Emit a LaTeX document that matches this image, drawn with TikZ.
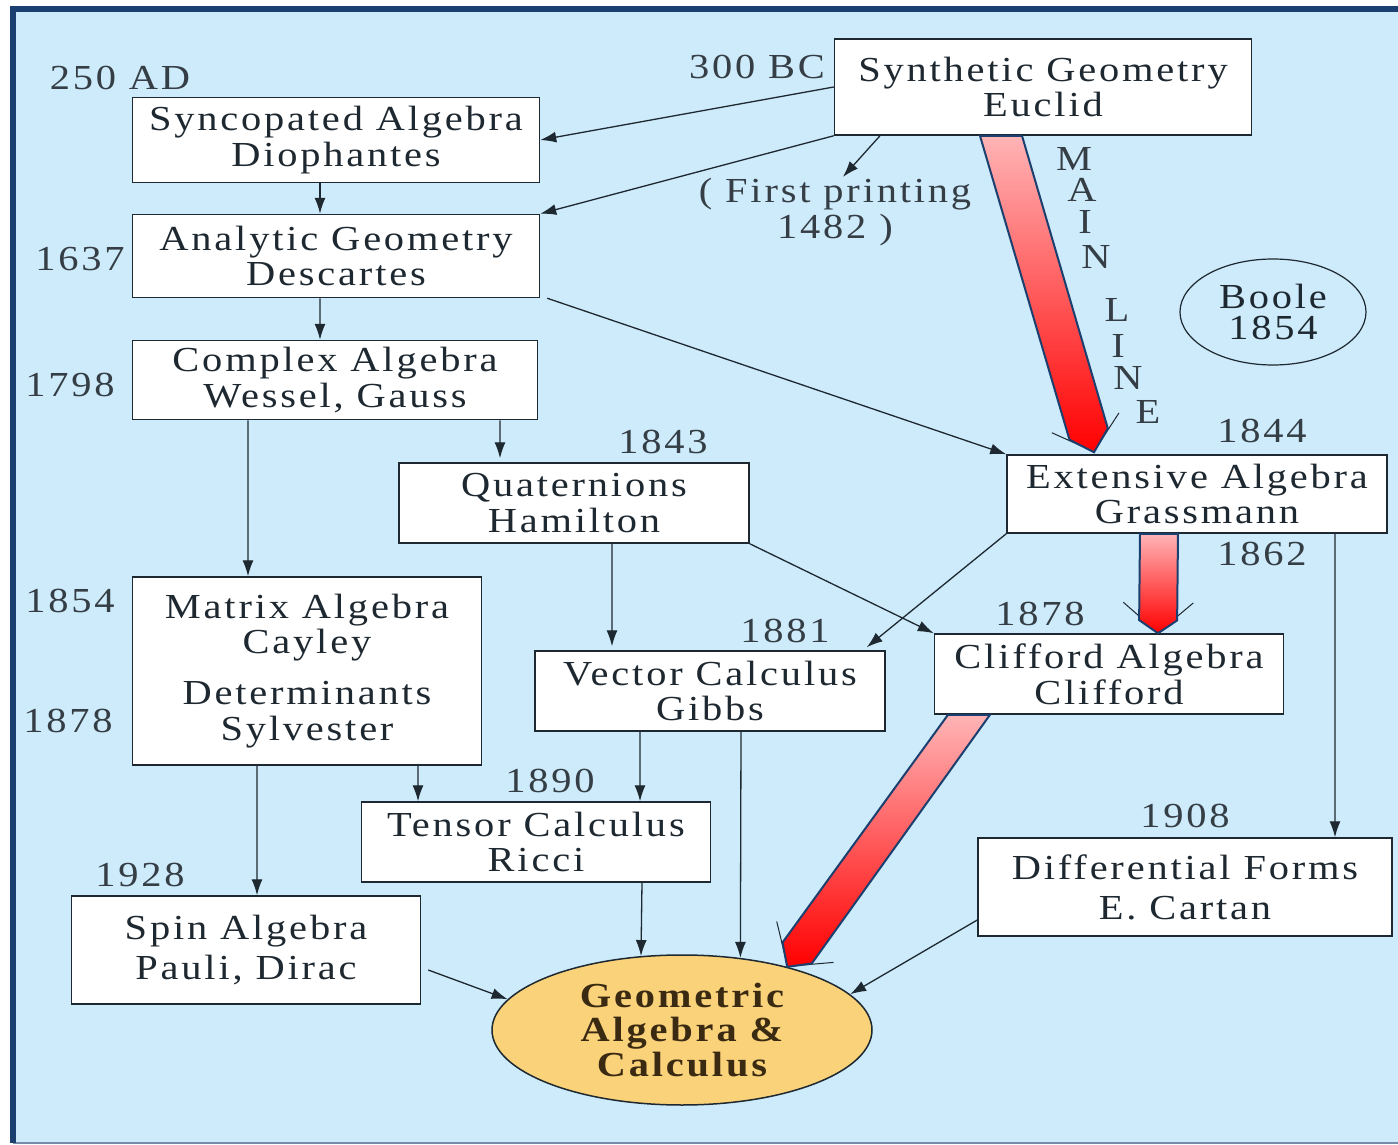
\documentclass[tikz,border=0pt]{standalone}
\usepackage{fontspec}
\setmainfont{Liberation Serif}[FakeStretch=1.15,LetterSpace=8]
\usetikzlibrary{arrows.meta,shapes.geometric,calc}

\definecolor{skyback}{HTML}{CDEBFB}
\definecolor{framecol}{HTML}{1B3F6E}
\definecolor{inkcol}{HTML}{1E2830}
\definecolor{gafill}{HTML}{F9D27A}
\definecolor{gatext}{HTML}{3A2A12}
\definecolor{barpink}{HTML}{FFB4B6}

\tikzset{
  box/.style={draw=inkcol, fill=white, line width=0.15mm, inner sep=0pt,
    align=center, text=inkcol, font=\fontsize{10}{10.2}\selectfont},
  year/.style={text=inkcol!90, font=\fontsize{10}{10.5}\selectfont, inner sep=0pt},
  link/.style={draw=inkcol, line width=0.13mm, -{Latex[length=1.6mm,width=1.1mm]}},
  mainline/.style={draw=inkcol, line width=0.1mm, -{Straight Barb[length=3mm,width=7mm]}},
  mainbar/.style={draw=framecol, line width=0.2mm, top color=barpink, bottom color=red},
}

% broad red arrow: base, tip, half width at base, half width of shaft, head length
\newcommand\mainarrow[5]{%
  \coordinate (ma-m) at ($(#2)!#5!(#1)$);
  \path[mainbar] ([xshift=#3]#1) -- ($(ma-m)!#4!90:(#2)$) -- (#2)
    -- ($(ma-m)!#4!-90:(#2)$) -- ([xshift=-#3]#1) -- cycle;
}

\begin{document}
\begin{tikzpicture}[x=0.1mm, y=-0.1mm]
\useasboundingbox (0,0) rectangle (1398,1145);
\fill[white] (0,0) rectangle (1398,1145);
\fill[skyback] (13,9) rectangle (1398,1143);
\draw[framecol!60, line width=0.2mm] (13,1143) -- (1398,1143);
\draw[framecol, line width=0.6mm] (13,1143) -- (13,9) -- (1398,9);

% boxes
\node[box, minimum width=41.7mm, minimum height=9.6mm] (euclid) at (1043,87) {Synthetic Geometry\\Euclid};
\node[box, minimum width=40.7mm, minimum height=8.5mm] (dioph) at (336,140) {Syncopated Algebra\\Diophantes};
\node[box, minimum width=40.7mm, minimum height=8.3mm] (desc) at (336,256) {Analytic Geometry\\Descartes};
\node[box, minimum width=40.5mm, minimum height=7.9mm] (gauss) at (335,380) {Complex Algebra\\Wessel, Gauss};
\node[box, minimum width=35mm, minimum height=8mm] (ham) at (574,503) {Quaternions\\Hamilton};
\node[box, minimum width=38mm, minimum height=7.8mm] (grass) at (1197,494) {Extensive Algebra\\Grassmann};
\node[box, minimum width=34.9mm, minimum height=18.8mm] (cayley) at (307,671) {Matrix Algebra\\Cayley\\[1.5mm]Determinants\\Sylvester};
\node[box, minimum width=35mm, minimum height=8mm] (gibbs) at (710,691) {Vector Calculus\\Gibbs};
\node[box, minimum width=34.9mm, minimum height=8mm] (cliff) at (1109,674) {Clifford Algebra\\Clifford};
\node[box, minimum width=34.9mm, minimum height=8mm] (ricci) at (536,842) {Tensor Calculus\\Ricci};
\node[box, minimum width=41.4mm, minimum height=9.8mm, font=\fontsize{10}{11.4}\selectfont] (cartan) at (1185,887) {Differential Forms\\E. Cartan};
\node[box, minimum width=34.9mm, minimum height=10.8mm, font=\fontsize{10}{11.6}\selectfont] (pauli) at (246,950) {Spin Algebra\\Pauli, Dirac};
\node[ellipse, draw=inkcol, line width=0.15mm, fill=gafill, minimum width=38mm, minimum height=15mm,
  inner sep=0pt, align=center, text=gatext, font=\bfseries\fontsize{10}{9.7}\selectfont] (ga) at (682,1030) {Geometric\\Algebra \&\\Calculus};
\node[ellipse, draw=inkcol, line width=0.12mm, minimum width=18.6mm, minimum height=10.6mm,
  inner sep=0pt, align=center, text=inkcol, font=\fontsize{10}{8.9}\selectfont] (boole) at (1273,312) {Boole\\1854};

% years
\node[year] (y250) at (120,78) {250 AD};
\node[year] (y300) at (757,67) {300 BC};
\node[year] (y1637) at (80,259) {1637};
\node[year] (y1798) at (70,385) {1798};
\node[year] (y1843) at (663,442) {1843};
\node[year] (y1844) at (1262,431) {1844};
\node[year] (y1862) at (1262,554) {1862};
\node[year] (y1854) at (70,601) {1854};
\node[year] (y1878a) at (68,721) {1878};
\node[year] (y1881) at (785,631) {1881};
\node[year] (y1878b) at (1040,614) {1878};
\node[year] (y1890) at (550,781) {1890};
\node[year] (y1908) at (1185,816) {1908};
\node[year] (y1928) at (140,875) {1928};
\node[year, align=center, font=\fontsize{10}{10.5}\selectfont] (print) at (835,212) {( First printing\\1482 )};
\foreach \ch/\px/\py [count=\k] in {M/1074/159, A/1082/190, I/1085/222, N/1096/257, L/1117/310, I/1118/346, N/1128/378, E/1148/412}
  \node[year] (main\k) at (\px,\py) {\ch};

% links
\draw[link] (euclid.west) -- (dioph.east);
\draw[link] (euclid.south west) -- (desc.north east);
\draw[link] ([xshift=-16.3mm]euclid.south) -- ([xshift=0.8mm]print.north);
\draw[link] ([xshift=-1.6mm]dioph.south) -- ([xshift=-1.6mm]desc.north);
\draw[link] ([xshift=-1.6mm]desc.south) -- ([xshift=-1.5mm]gauss.north);
\draw[link] ([xshift=0.7mm]desc.south east) -- (grass.north west);
\draw[link] ([xshift=16.5mm]gauss.south) -- ([xshift=-7.4mm,yshift=0.4mm]ham.north);
\draw[link] ([xshift=-8.7mm]gauss.south) -- ([xshift=-5.9mm]cayley.north);
\draw[link] ([xshift=3.8mm]ham.south) -- ([xshift=-9.8mm,yshift=0.4mm]gibbs.north);
\draw[link] (ham.south east) -- (cliff.north west);
\draw[link] (grass.south west) -- ([xshift=-1.9mm,yshift=0.3mm]gibbs.north east);
\draw[link] ([xshift=13.8mm]grass.south) -- ([xshift=15mm]cartan.north);
\draw[link] ([xshift=11.1mm]cayley.south) -- ([xshift=-11.8mm]ricci.north);
\draw[link] ([xshift=-5mm]cayley.south) -- ([xshift=1.1mm]pauli.north);
\draw[link] ([xshift=-7mm]gibbs.south) -- ([xshift=10.4mm]ricci.north);
\draw[link] ([xshift=3.1mm]gibbs.south) -- (ga.51);
\draw[link] ([xshift=10.6mm]ricci.south) -- (ga.119);
\draw[link] ([xshift=0.7mm,yshift=-2mm]pauli.east) -- (ga.170);
\draw[link] ([yshift=-3.3mm]cartan.west) -- (ga.12);

% main line
\coordinate (mainA-s) at ([xshift=-4.2mm]euclid.south);
\coordinate (mainA-t) at ([xshift=-10.3mm,yshift=0.2mm]grass.north);
\coordinate (mainB-s) at ([xshift=-3.8mm]grass.south);
\coordinate (mainB-t) at ([xshift=4.9mm]cliff.north);
\coordinate (mainC-s) at ([xshift=-14mm]cliff.south);
\coordinate (mainC-t) at (ga.31);
\draw[mainline] (mainA-s) -- (mainA-t);
\draw[mainline] (mainB-s) -- (mainB-t);
\draw[mainline] (mainC-s) -- (mainC-t);
\mainarrow{mainA-s}{mainA-t}{2.1mm}{2mm}{1.9mm}
\mainarrow{mainB-s}{mainB-t}{1.9mm}{1.9mm}{1.3mm}
\mainarrow{mainC-s}{mainC-t}{2.1mm}{1.8mm}{1.7mm}
\end{tikzpicture}
\end{document}
